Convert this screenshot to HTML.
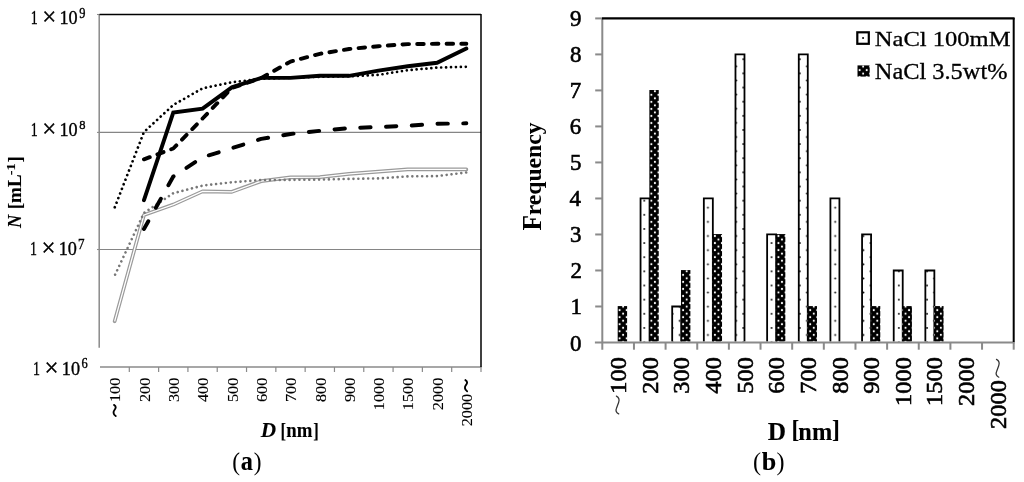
<!DOCTYPE html>
<html><head><meta charset="utf-8"><style>
html,body{margin:0;padding:0;background:#fff;}
body{width:1024px;height:482px;overflow:hidden;}
svg{display:block;}
text{font-family:"Liberation Serif",serif;stroke:#000;stroke-width:0.35px;}
svg{will-change:transform;}
</style></head><body>
<svg width="1024" height="482" viewBox="0 0 1024 482">
<rect width="1024" height="482" fill="#fff"/>
<line x1="99" y1="132.4" x2="481.0" y2="132.4" stroke="#858585" stroke-width="1.2"/>
<line x1="99" y1="249.5" x2="481.0" y2="249.5" stroke="#858585" stroke-width="1.2"/>
<line x1="97" y1="14.5" x2="99.5" y2="14.5" stroke="#8a8a8a" stroke-width="1.1"/>
<line x1="97" y1="132.4" x2="99.5" y2="132.4" stroke="#8a8a8a" stroke-width="1.1"/>
<line x1="97" y1="249.5" x2="99.5" y2="249.5" stroke="#8a8a8a" stroke-width="1.1"/>
<line x1="99.2" y1="14" x2="99.2" y2="347.8" stroke="#8a8a8a" stroke-width="1.5"/>
<line x1="100" y1="367" x2="481.5" y2="367" stroke="#8a8a8a" stroke-width="1.5"/>
<line x1="129.31" y1="367" x2="129.31" y2="372" stroke="#8a8a8a" stroke-width="1.2"/>
<line x1="158.62" y1="367" x2="158.62" y2="372" stroke="#8a8a8a" stroke-width="1.2"/>
<line x1="187.92" y1="367" x2="187.92" y2="372" stroke="#8a8a8a" stroke-width="1.2"/>
<line x1="217.23" y1="367" x2="217.23" y2="372" stroke="#8a8a8a" stroke-width="1.2"/>
<line x1="246.54" y1="367" x2="246.54" y2="372" stroke="#8a8a8a" stroke-width="1.2"/>
<line x1="275.85" y1="367" x2="275.85" y2="372" stroke="#8a8a8a" stroke-width="1.2"/>
<line x1="305.15" y1="367" x2="305.15" y2="372" stroke="#8a8a8a" stroke-width="1.2"/>
<line x1="334.46" y1="367" x2="334.46" y2="372" stroke="#8a8a8a" stroke-width="1.2"/>
<line x1="363.77" y1="367" x2="363.77" y2="372" stroke="#8a8a8a" stroke-width="1.2"/>
<line x1="393.08" y1="367" x2="393.08" y2="372" stroke="#8a8a8a" stroke-width="1.2"/>
<line x1="422.38" y1="367" x2="422.38" y2="372" stroke="#8a8a8a" stroke-width="1.2"/>
<line x1="451.69" y1="367" x2="451.69" y2="372" stroke="#8a8a8a" stroke-width="1.2"/>
<line x1="481.00" y1="367" x2="481.00" y2="372" stroke="#8a8a8a" stroke-width="1.2"/>
<line x1="99.5" y1="14.6" x2="481" y2="14.6" stroke="#000" stroke-width="1.5"/>
<line x1="481" y1="14" x2="481" y2="367" stroke="#000" stroke-width="1.5"/>
<path d="M114.65,321.30 L143.96,215.00 L173.27,204.60 L202.58,191.40 L231.88,191.80 L261.19,181.20 L290.50,177.40 L319.81,177.20 L349.12,173.80 L378.42,171.60 L407.73,169.40 L437.04,169.40 L466.35,169.40" fill="none" stroke="#9a9a9a" stroke-width="3.7" stroke-linejoin="round" stroke-linecap="round"/>
<path d="M114.65,321.30 L143.96,215.00 L173.27,204.60 L202.58,191.40 L231.88,191.80 L261.19,181.20 L290.50,177.40 L319.81,177.20 L349.12,173.80 L378.42,171.60 L407.73,169.40 L437.04,169.40 L466.35,169.40" fill="none" stroke="#fff" stroke-width="1.3" stroke-linejoin="round"/>
<path d="M114.65,275.70 L143.96,213.00 L173.27,193.20 L202.58,185.60 L231.88,182.30 L261.19,180.00 L290.50,179.90 L319.81,179.60 L349.12,178.90 L378.42,178.40 L407.73,176.40 L437.04,176.10 L466.35,172.50" fill="none" stroke="#777" stroke-width="2.6" stroke-dasharray="0.01 4.903" stroke-dashoffset="3.85" stroke-linecap="round" stroke-linejoin="round"/>
<path d="M114.65,207.60 L143.96,132.00 L173.27,105.00 L202.58,88.30 L231.88,82.30 L261.19,78.80 L290.50,77.80 L319.81,76.80 L349.12,76.30 L378.42,74.90 L407.73,70.20 L437.04,67.60 L466.35,66.80" fill="none" stroke="#000" stroke-width="2.7" stroke-dasharray="0.01 4.918" stroke-dashoffset="-0.38" stroke-linecap="round" stroke-linejoin="round"/>
<path d="M143.96,229.00 L173.27,176.50 L202.58,157.30 L231.88,148.20 L261.19,138.90 L290.50,134.00 L319.81,130.80 L349.12,128.10 L378.42,127.00 L407.73,125.80 L437.04,123.80 L466.35,123.30" fill="none" stroke="#000" stroke-width="3.9" stroke-dasharray="10.4 15.38" stroke-dashoffset="1.45" stroke-linecap="round" stroke-linejoin="round"/>
<path d="M143.96,159.30 L173.27,148.50 L202.58,118.50 L231.88,88.00 L261.19,78.00 L290.50,61.60 L319.81,53.80 L349.12,49.00 L378.42,46.20 L407.73,44.10 L437.04,43.80 L466.35,43.80" fill="none" stroke="#000" stroke-width="3.9" stroke-dasharray="6.55 8.15" stroke-dashoffset="0.375" stroke-linecap="round" stroke-linejoin="round"/>
<path d="M143.96,200.20 L173.27,112.60 L202.58,108.60 L231.88,87.30 L261.19,77.90 L290.50,77.90 L319.81,75.80 L349.12,75.80 L378.42,70.60 L407.73,66.30 L437.04,62.80 L466.35,48.60" fill="none" stroke="#000" stroke-width="3.9" stroke-linejoin="miter" stroke-linecap="round"/>
<text transform="translate(30.68,24.20) scale(0.7068,1)" style="font-size:19.69px" fill="#000">1</text><text transform="translate(42.24,25.30) scale(1.0012,1)" style="font-size:24.80px" fill="#000">×</text><text transform="translate(59.50,24.20) scale(0.9306,1)" style="font-size:19.55px" fill="#000">10</text><text transform="translate(79.30,18.46) scale(0.8972,1)" style="font-size:13.84px" fill="#000">9</text>
<text transform="translate(30.68,135.80) scale(0.7068,1)" style="font-size:19.69px" fill="#000">1</text><text transform="translate(42.24,136.90) scale(1.0012,1)" style="font-size:24.80px" fill="#000">×</text><text transform="translate(59.50,135.80) scale(0.9306,1)" style="font-size:19.55px" fill="#000">10</text><text transform="translate(79.22,129.27) scale(0.9376,1)" style="font-size:13.34px" fill="#000">8</text>
<text transform="translate(29.88,254.80) scale(0.7068,1)" style="font-size:19.69px" fill="#000">1</text><text transform="translate(41.44,255.90) scale(1.0012,1)" style="font-size:24.80px" fill="#000">×</text><text transform="translate(58.70,254.80) scale(0.9306,1)" style="font-size:19.55px" fill="#000">10</text><text transform="translate(78.04,248.75) scale(0.9158,1)" style="font-size:14.28px" fill="#000">7</text>
<text transform="translate(32.98,374.80) scale(0.7068,1)" style="font-size:19.69px" fill="#000">1</text><text transform="translate(44.54,375.90) scale(1.0012,1)" style="font-size:24.80px" fill="#000">×</text><text transform="translate(61.80,374.80) scale(0.9306,1)" style="font-size:19.55px" fill="#000">10</text><text transform="translate(81.47,368.27) scale(0.9059,1)" style="font-size:13.69px" fill="#000">6</text>
<text transform="translate(120.35,402.02) rotate(-90) scale(1.0500,1)" style="stroke-width:0.12px;font-size:15.45px" fill="#000">100</text>
<path d="M115.7,416.0 C112.9,414.4 113.2,411.6 114.5,410.0 C115.9,408.3 116.5,406.2 114.0,404.9" fill="none" stroke="#000" stroke-width="1.9" stroke-linecap="round"/>
<text transform="translate(149.66,402.02) rotate(-90) scale(1.0500,1)" style="stroke-width:0.12px;font-size:15.45px" fill="#000">200</text>
<text transform="translate(178.97,402.02) rotate(-90) scale(1.0500,1)" style="stroke-width:0.12px;font-size:15.45px" fill="#000">300</text>
<text transform="translate(208.28,402.02) rotate(-90) scale(1.0500,1)" style="stroke-width:0.12px;font-size:15.45px" fill="#000">400</text>
<text transform="translate(237.58,402.02) rotate(-90) scale(1.0500,1)" style="stroke-width:0.12px;font-size:15.45px" fill="#000">500</text>
<text transform="translate(266.89,402.02) rotate(-90) scale(1.0500,1)" style="stroke-width:0.12px;font-size:15.45px" fill="#000">600</text>
<text transform="translate(296.20,402.02) rotate(-90) scale(1.0500,1)" style="stroke-width:0.12px;font-size:15.45px" fill="#000">700</text>
<text transform="translate(325.51,402.02) rotate(-90) scale(1.0500,1)" style="stroke-width:0.12px;font-size:15.45px" fill="#000">800</text>
<text transform="translate(354.82,402.02) rotate(-90) scale(1.0500,1)" style="stroke-width:0.12px;font-size:15.45px" fill="#000">900</text>
<text transform="translate(384.12,410.13) rotate(-90) scale(1.0500,1)" style="stroke-width:0.12px;font-size:15.45px" fill="#000">1000</text>
<text transform="translate(413.43,410.13) rotate(-90) scale(1.0500,1)" style="stroke-width:0.12px;font-size:15.45px" fill="#000">1500</text>
<text transform="translate(442.74,410.13) rotate(-90) scale(1.0500,1)" style="stroke-width:0.12px;font-size:15.45px" fill="#000">2000</text>
<text transform="translate(472.05,426.23) rotate(-90) scale(1.0500,1)" style="stroke-width:0.12px;font-size:15.45px" fill="#000">2000</text>
<path transform="translate(351.4,-24.8)" d="M115.7,416.0 C112.9,414.4 113.2,411.6 114.5,410.0 C115.9,408.3 116.5,406.2 114.0,404.9" fill="none" stroke="#000" stroke-width="1.9" stroke-linecap="round"/>
<text transform="translate(21.20,227.93) rotate(-90) scale(0.9336,1)" style="font-weight:bold;font-style:italic;stroke-width:0.1px;font-size:19.70px" fill="#000">N</text>
<text transform="translate(21.20,209.21) rotate(-90) scale(0.9639,1)" style="font-weight:bold;stroke-width:0.1px;font-size:19.70px" fill="#000">[mL</text>
<text transform="translate(14.80,175.33) rotate(-90) scale(1.1536,1)" style="font-weight:bold;stroke-width:0.1px;font-size:12.57px" fill="#000">-1</text>
<text transform="translate(21.20,162.32) rotate(-90) scale(0.8663,1)" style="font-weight:bold;stroke-width:0.1px;font-size:19.70px" fill="#000">]</text>
<text transform="translate(260.66,436.70) scale(1.0229,1)" style="font-weight:bold;font-style:italic;stroke-width:0.1px;font-size:20.77px" fill="#000">D</text>
<text transform="translate(280.47,437.60) scale(0.7950,1)" style="font-weight:bold;stroke-width:0.1px;font-size:20.90px" fill="#000">[</text>
<text transform="translate(286.29,436.70) scale(0.9136,1)" style="font-weight:bold;stroke-width:0.1px;font-size:20.59px" fill="#000">nm</text>
<text transform="translate(313.20,437.60) scale(0.7950,1)" style="font-weight:bold;stroke-width:0.1px;font-size:20.90px" fill="#000">]</text>
<text transform="translate(232.27,469.70) scale(0.9210,1)" style="stroke-width:0;font-size:25.37px" fill="#000">(</text>
<text transform="translate(240.72,470.00) scale(0.8979,1)" style="font-weight:bold;stroke-width:0.1px;font-size:27.07px" fill="#000">a</text>
<text transform="translate(253.75,469.70) scale(0.9210,1)" style="stroke-width:0;font-size:25.37px" fill="#000">)</text>
<defs>
<pattern id="pw" patternUnits="userSpaceOnUse" x="644.3" y="214.8" width="14.14" height="14.14">
<circle cx="0" cy="0" r="0.95" fill="#000"/><circle cx="14.14" cy="0" r="0.95" fill="#000"/><circle cx="0" cy="14.14" r="0.95" fill="#000"/><circle cx="14.14" cy="14.14" r="0.95" fill="#000"/><circle cx="7.07" cy="7.07" r="0.95" fill="#000"/>
</pattern>
<pattern id="pb" patternUnits="userSpaceOnUse" x="619.6" y="310.1" width="7.06" height="7.06">
<rect width="7.06" height="7.06" fill="#000"/>
<circle cx="0" cy="0" r="1.05" fill="#fff"/><circle cx="7.06" cy="0" r="1.05" fill="#fff"/><circle cx="0" cy="7.06" r="1.05" fill="#fff"/><circle cx="7.06" cy="7.06" r="1.05" fill="#fff"/><circle cx="3.53" cy="3.53" r="1.05" fill="#fff"/>
</pattern>
</defs>
<rect x="617.70" y="306.09" width="9.4" height="35.41" fill="url(#pb)"/>
<rect x="640.55" y="198.46" width="9.0" height="143.04" fill="url(#pw)"/>
<path d="M640.55,341.5 V198.46 H649.55 V341.5" fill="none" stroke="#000" stroke-width="1.8" stroke-linejoin="miter"/>
<rect x="649.35" y="90.02" width="9.4" height="251.48" fill="url(#pb)"/>
<rect x="672.19" y="306.49" width="9.0" height="35.01" fill="url(#pw)"/>
<path d="M672.19,341.5 V306.49 H681.19 V341.5" fill="none" stroke="#000" stroke-width="1.8" stroke-linejoin="miter"/>
<rect x="680.99" y="270.08" width="9.4" height="71.42" fill="url(#pb)"/>
<rect x="703.84" y="198.46" width="9.0" height="143.04" fill="url(#pw)"/>
<path d="M703.84,341.5 V198.46 H712.84 V341.5" fill="none" stroke="#000" stroke-width="1.8" stroke-linejoin="miter"/>
<rect x="712.64" y="234.07" width="9.4" height="107.43" fill="url(#pb)"/>
<rect x="735.48" y="54.41" width="9.0" height="287.09" fill="url(#pw)"/>
<path d="M735.48,341.5 V54.41 H744.48 V341.5" fill="none" stroke="#000" stroke-width="1.8" stroke-linejoin="miter"/>
<rect x="767.13" y="234.47" width="9.0" height="107.03" fill="url(#pw)"/>
<path d="M767.13,341.5 V234.47 H776.13 V341.5" fill="none" stroke="#000" stroke-width="1.8" stroke-linejoin="miter"/>
<rect x="775.93" y="234.07" width="9.4" height="107.43" fill="url(#pb)"/>
<rect x="798.78" y="54.41" width="9.0" height="287.09" fill="url(#pw)"/>
<path d="M798.78,341.5 V54.41 H807.78 V341.5" fill="none" stroke="#000" stroke-width="1.8" stroke-linejoin="miter"/>
<rect x="807.58" y="306.09" width="9.4" height="35.41" fill="url(#pb)"/>
<rect x="830.42" y="198.46" width="9.0" height="143.04" fill="url(#pw)"/>
<path d="M830.42,341.5 V198.46 H839.42 V341.5" fill="none" stroke="#000" stroke-width="1.8" stroke-linejoin="miter"/>
<rect x="862.07" y="234.47" width="9.0" height="107.03" fill="url(#pw)"/>
<path d="M862.07,341.5 V234.47 H871.07 V341.5" fill="none" stroke="#000" stroke-width="1.8" stroke-linejoin="miter"/>
<rect x="870.87" y="306.09" width="9.4" height="35.41" fill="url(#pb)"/>
<rect x="893.72" y="270.48" width="9.0" height="71.02" fill="url(#pw)"/>
<path d="M893.72,341.5 V270.48 H902.72 V341.5" fill="none" stroke="#000" stroke-width="1.8" stroke-linejoin="miter"/>
<rect x="902.52" y="306.09" width="9.4" height="35.41" fill="url(#pb)"/>
<rect x="925.36" y="270.48" width="9.0" height="71.02" fill="url(#pw)"/>
<path d="M925.36,341.5 V270.48 H934.36 V341.5" fill="none" stroke="#000" stroke-width="1.8" stroke-linejoin="miter"/>
<rect x="934.16" y="306.09" width="9.4" height="35.41" fill="url(#pb)"/>
<line x1="602.3" y1="18" x2="602.3" y2="349.7" stroke="#8a8a8a" stroke-width="2"/>
<line x1="594.9" y1="342.5" x2="1014.5" y2="342.5" stroke="#8a8a8a" stroke-width="2"/>
<line x1="633.95" y1="342" x2="633.95" y2="349.7" stroke="#8a8a8a" stroke-width="2"/>
<line x1="665.59" y1="342" x2="665.59" y2="349.7" stroke="#8a8a8a" stroke-width="2"/>
<line x1="697.24" y1="342" x2="697.24" y2="349.7" stroke="#8a8a8a" stroke-width="2"/>
<line x1="728.88" y1="342" x2="728.88" y2="349.7" stroke="#8a8a8a" stroke-width="2"/>
<line x1="760.53" y1="342" x2="760.53" y2="349.7" stroke="#8a8a8a" stroke-width="2"/>
<line x1="792.18" y1="342" x2="792.18" y2="349.7" stroke="#8a8a8a" stroke-width="2"/>
<line x1="823.82" y1="342" x2="823.82" y2="349.7" stroke="#8a8a8a" stroke-width="2"/>
<line x1="855.47" y1="342" x2="855.47" y2="349.7" stroke="#8a8a8a" stroke-width="2"/>
<line x1="887.12" y1="342" x2="887.12" y2="349.7" stroke="#8a8a8a" stroke-width="2"/>
<line x1="918.76" y1="342" x2="918.76" y2="349.7" stroke="#8a8a8a" stroke-width="2"/>
<line x1="950.41" y1="342" x2="950.41" y2="349.7" stroke="#8a8a8a" stroke-width="2"/>
<line x1="982.05" y1="342" x2="982.05" y2="349.7" stroke="#8a8a8a" stroke-width="2"/>
<line x1="1013.70" y1="342" x2="1013.70" y2="349.7" stroke="#8a8a8a" stroke-width="2"/>
<line x1="595.2" y1="306.49" x2="602" y2="306.49" stroke="#8a8a8a" stroke-width="2"/>
<line x1="595.2" y1="270.48" x2="602" y2="270.48" stroke="#8a8a8a" stroke-width="2"/>
<line x1="595.2" y1="234.47" x2="602" y2="234.47" stroke="#8a8a8a" stroke-width="2"/>
<line x1="595.2" y1="198.46" x2="602" y2="198.46" stroke="#8a8a8a" stroke-width="2"/>
<line x1="595.2" y1="162.44" x2="602" y2="162.44" stroke="#8a8a8a" stroke-width="2"/>
<line x1="595.2" y1="126.43" x2="602" y2="126.43" stroke="#8a8a8a" stroke-width="2"/>
<line x1="595.2" y1="90.42" x2="602" y2="90.42" stroke="#8a8a8a" stroke-width="2"/>
<line x1="595.2" y1="54.41" x2="602" y2="54.41" stroke="#8a8a8a" stroke-width="2"/>
<line x1="595.2" y1="18.40" x2="602" y2="18.40" stroke="#8a8a8a" stroke-width="2"/>
<line x1="602" y1="18.4" x2="1014.6" y2="18.4" stroke="#000" stroke-width="2.2"/>
<line x1="1013.7" y1="18" x2="1013.7" y2="342" stroke="#000" stroke-width="2"/>
<text transform="translate(570.02,350.50) scale(1.0000,1)" style="stroke-width:0.6px;font-size:22.90px" fill="#000">0</text>
<text transform="translate(570.53,314.49) scale(1.0000,1)" style="stroke-width:0.6px;font-size:22.90px" fill="#000">1</text>
<text transform="translate(570.41,278.48) scale(1.0000,1)" style="stroke-width:0.6px;font-size:22.90px" fill="#000">2</text>
<text transform="translate(570.04,242.47) scale(1.0000,1)" style="stroke-width:0.6px;font-size:22.90px" fill="#000">3</text>
<text transform="translate(569.51,206.46) scale(1.0000,1)" style="stroke-width:0.6px;font-size:22.90px" fill="#000">4</text>
<text transform="translate(570.04,170.44) scale(1.0000,1)" style="stroke-width:0.6px;font-size:22.90px" fill="#000">5</text>
<text transform="translate(569.83,134.43) scale(1.0000,1)" style="stroke-width:0.6px;font-size:22.90px" fill="#000">6</text>
<text transform="translate(569.81,98.42) scale(1.0000,1)" style="stroke-width:0.6px;font-size:22.90px" fill="#000">7</text>
<text transform="translate(570.02,62.41) scale(1.0000,1)" style="stroke-width:0.6px;font-size:22.90px" fill="#000">8</text>
<text transform="translate(570.09,26.40) scale(1.0000,1)" style="stroke-width:0.6px;font-size:22.90px" fill="#000">9</text>
<text transform="translate(626.02,393.67) rotate(-90) scale(1.0750,1)" style="stroke-width:0.6px;font-size:22.70px" fill="#000">100</text>
<path d="M616.4,396.1 C618.9,397.4 619.6,399.7 618.6,402.5 L616.4,408.5 C615.4,410.8 616.3,412.6 618.7,413.9" fill="none" stroke="#333" stroke-width="1.25" stroke-linecap="round"/>
<text transform="translate(657.67,393.67) rotate(-90) scale(1.0750,1)" style="stroke-width:0.6px;font-size:22.70px" fill="#000">200</text>
<text transform="translate(689.32,393.67) rotate(-90) scale(1.0750,1)" style="stroke-width:0.6px;font-size:22.70px" fill="#000">300</text>
<text transform="translate(720.96,393.67) rotate(-90) scale(1.0750,1)" style="stroke-width:0.6px;font-size:22.70px" fill="#000">400</text>
<text transform="translate(752.61,393.67) rotate(-90) scale(1.0750,1)" style="stroke-width:0.6px;font-size:22.70px" fill="#000">500</text>
<text transform="translate(784.25,393.67) rotate(-90) scale(1.0750,1)" style="stroke-width:0.6px;font-size:22.70px" fill="#000">600</text>
<text transform="translate(815.90,393.67) rotate(-90) scale(1.0750,1)" style="stroke-width:0.6px;font-size:22.70px" fill="#000">700</text>
<text transform="translate(847.55,393.67) rotate(-90) scale(1.0750,1)" style="stroke-width:0.6px;font-size:22.70px" fill="#000">800</text>
<text transform="translate(879.19,393.67) rotate(-90) scale(1.0750,1)" style="stroke-width:0.6px;font-size:22.70px" fill="#000">900</text>
<text transform="translate(910.84,405.88) rotate(-90) scale(1.0750,1)" style="stroke-width:0.6px;font-size:22.70px" fill="#000">1000</text>
<text transform="translate(942.48,405.88) rotate(-90) scale(1.0750,1)" style="stroke-width:0.6px;font-size:22.70px" fill="#000">1500</text>
<text transform="translate(974.13,405.88) rotate(-90) scale(1.0750,1)" style="stroke-width:0.6px;font-size:22.70px" fill="#000">2000</text>
<text transform="translate(1005.78,428.88) rotate(-90) scale(1.0750,1)" style="stroke-width:0.6px;font-size:22.70px" fill="#000">2000</text>
<path transform="translate(380.1,-36.7)" d="M616.4,396.1 C618.9,397.4 619.6,399.7 618.6,402.5 L616.4,408.5 C615.4,410.8 616.3,412.6 618.7,413.9" fill="none" stroke="#333" stroke-width="1.25" stroke-linecap="round"/>
<text transform="translate(541.40,230.43) rotate(-90) scale(0.9624,1)" style="font-weight:bold;stroke-width:0;font-size:26.27px" fill="#000">F</text>
<text transform="translate(541.30,215.34) rotate(-90) scale(1.0204,1)" style="font-weight:bold;stroke-width:0;font-size:23.20px" fill="#000">requency</text>
<rect x="857.3" y="32.3" width="11.5" height="11.5" fill="#fff" stroke="#000" stroke-width="2.2"/>
<circle cx="863.05" cy="38.05" r="1.0" fill="#000"/>
<rect x="857.5" y="65.4" width="12.2" height="11.2" fill="url(#pb)"/>
<text transform="translate(874.79,45.50) scale(1.1358,1)" style="stroke-width:0.3px;font-size:21.62px" fill="#000">NaCl 100mM</text>
<text transform="translate(874.80,78.90) scale(1.1057,1)" style="stroke-width:0.3px;font-size:22.05px" fill="#000">NaCl 3.5wt%</text>
<text transform="translate(767.86,439.70) scale(0.9866,1)" style="font-weight:bold;stroke-width:0.1px;font-size:25.66px" fill="#000">D</text>
<text transform="translate(791.47,437.75) scale(0.9338,1)" style="font-weight:bold;stroke-width:0.1px;font-size:25.01px" fill="#000">[</text>
<text transform="translate(798.35,439.70) scale(1.0078,1)" style="font-weight:bold;stroke-width:0.1px;font-size:24.19px" fill="#000">nm</text>
<text transform="translate(831.96,437.75) scale(0.9338,1)" style="font-weight:bold;stroke-width:0.1px;font-size:25.01px" fill="#000">]</text>
<text transform="translate(753.04,469.62) scale(0.9558,1)" style="stroke-width:0;font-size:25.26px" fill="#000">(</text>
<text transform="translate(761.87,469.70) scale(1.0097,1)" style="font-weight:bold;stroke-width:0.1px;font-size:25.80px" fill="#000">b</text>
<text transform="translate(776.52,469.62) scale(0.9558,1)" style="stroke-width:0;font-size:25.26px" fill="#000">)</text>
</svg>
</body></html>
